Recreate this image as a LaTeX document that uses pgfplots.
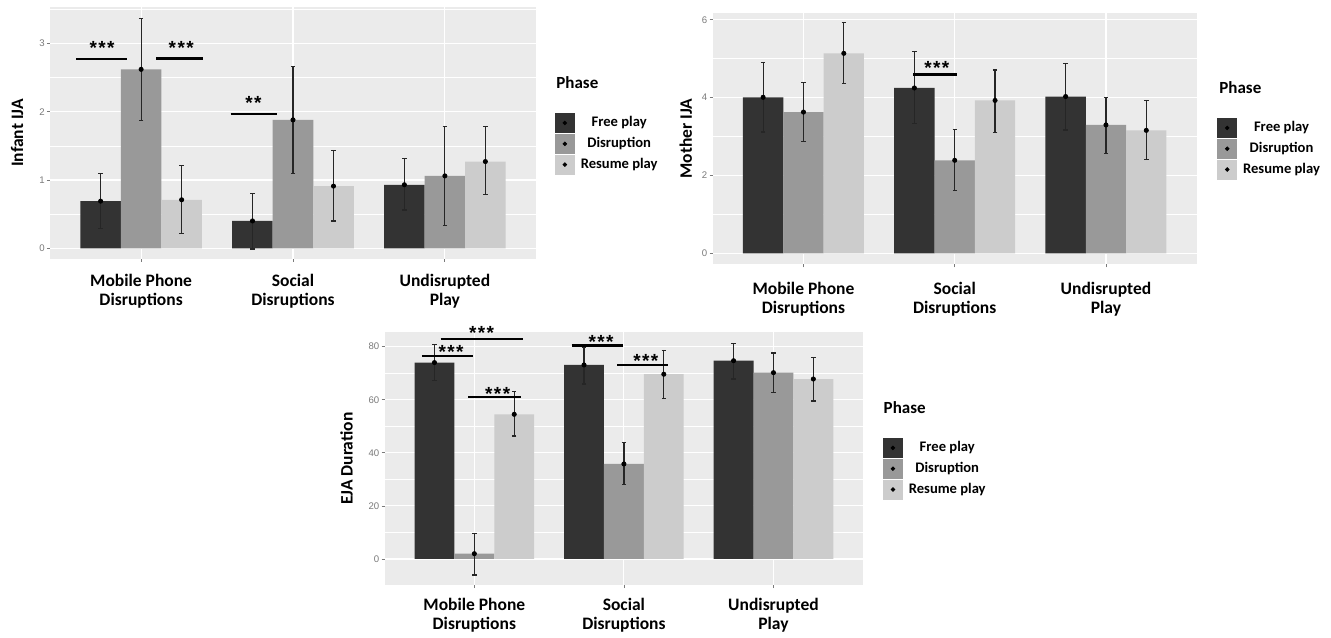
\documentclass[border=0pt]{standalone}
\usepackage{pgfplots}
\usepackage{pgfplotstable}
\pgfplotsset{compat=1.18}
\usepackage{fontspec}
\setmainfont{Carlito}
\newfontfamily\arialf{Liberation Sans}
\definecolor{cFree}{HTML}{333333}
\definecolor{cDis}{HTML}{999999}
\definecolor{cRes}{HTML}{CCCCCC}
\definecolor{ggbg}{HTML}{EBEBEB}
\definecolor{tickgray}{HTML}{7A7A7A}
\newcommand\catfont{\fontsize{8.75}{9.4}\selectfont\bfseries}
\newcommand\labfont{\fontsize{8.75}{9.4}\selectfont\bfseries}
\newcommand\legfont{\fontsize{7.3}{8}\selectfont\bfseries}
\newcommand\titfont{\fontsize{8.5}{9}\selectfont\bfseries}
\newcommand\tickfont{\arialf\fontsize{4.8}{5}\selectfont}
\newcommand\starfont{\arialf\fontsize{9.5}{10}\selectfont\bfseries}
\newcommand\sthree{*\kern0.7pt*\kern0.7pt*}
\newcommand\stwo{*\kern0.7pt*}

% ---------- Infant IJA ----------
\pgfplotstableread{
x      y     ep    em
0.7333 0.69  0.40  0.40
1.7333 0.40  0.405 0.41
2.7333 0.93  0.38  0.37
}\infFree
\pgfplotstableread{
x      y     ep    em
1      2.62  0.75  0.75
2      1.88  0.78  0.78
3      1.06  0.72  0.73
}\infDis
\pgfplotstableread{
x      y     ep    em
1.2667 0.71  0.50  0.49
2.2667 0.91  0.52  0.51
3.2667 1.27  0.51  0.48
}\infRes
% ---------- Mother IJA ----------
\pgfplotstableread{
x      y     ep    em
0.7333 4.01  0.90  0.89
1.7333 4.25  0.93  0.91
2.7333 4.03  0.85  0.86
}\motFree
\pgfplotstableread{
x      y     ep    em
1      3.63  0.77  0.75
2      2.39  0.80  0.78
3      3.30  0.71  0.73
}\motDis
\pgfplotstableread{
x      y     ep    em
1.2667 5.14  0.79  0.77
2.2667 3.93  0.78  0.83
3.2667 3.16  0.76  0.75
}\motRes
% ---------- EJA Duration ----------
\pgfplotstableread{
x      y     ep    em
0.7333 74.0  6.9   6.9
1.7333 73.1  6.7   7.2
2.7333 74.7  6.6   6.9
}\ejaFree
\pgfplotstableread{
x      y     ep    em
1      2.0   7.7   8.0
2      35.8  8.2   7.7
3      70.2  7.4   7.5
}\ejaDis
\pgfplotstableread{
x      y     ep    em
1.2667 54.5  8.5   8.2
2.2667 69.6  8.8   9.1
3.2667 67.8  8.2   8.3
}\ejaRes

\tikzset{stars/.style={font=\starfont, anchor=center, yshift=-2pt, inner sep=0pt}}
\pgfplotsset{
  ggpanel/.style={
    scale only axis, anchor=south west, clip=false,
    xmin=0.4, xmax=3.6,
    xtick={1,2,3},
    xticklabels={{Mobile Phone\\Disruptions},{Social\\Disruptions},{Undisrupted\\Play}},
    axis background/.style={fill=ggbg},
    axis line style={draw=none},
    xmajorgrids, ymajorgrids, yminorgrids,
    major grid style={white, line width=0.55pt},
    minor grid style={white, line width=0.3pt},
    tick align=outside, major tick length=1.5pt, minor tick length=0pt,
    tick style={tickgray, line width=0.4pt},
    tick pos=left,
    xticklabel style={font=\catfont, align=center, anchor=north, inner sep=0pt},
    yticklabel style={font=\tickfont, text=tickgray, inner sep=1pt},
    /pgf/number format/assume math mode=true,
    ylabel style={font=\labfont, anchor=center},
    legend style={draw=none, fill=none, inner sep=0pt, outer sep=0pt,
      anchor=north west, row sep=0.5pt, column sep=3pt, font=\legfont,
      nodes={inner sep=0pt}},
    legend cell align=center,
  },
  phasekey/.style={legend image code/.code={%
    \fill[#1] (0pt,-4.75pt) rectangle (9.5pt,4.75pt);
    \fill[black] (4.75pt,0pt) circle (0.9pt);}},
  bars/.style={ybar, bar width=0.2667, bar shift=0pt, draw=none, fill=#1, forget plot},
  means/.style={only marks, mark=*, mark size=1.05pt, black, forget plot,
    error bars/.cd, y dir=both, y explicit,
    error bar style={line width=0.6pt, black!85},
    error mark options={rotate=90, mark size=1.1pt, line width=0.6pt, black!85}},
  sig/.style={black, line width=#1, no marks, forget plot},
}

\begin{document}
\begin{tikzpicture}
\fill[white] (0,0) rectangle (665.5pt,318.5pt);
\useasboundingbox (0,0) rectangle (665.5pt,318.5pt);

% ===== Panel 1: Infant IJA =====
\begin{axis}[ggpanel,
  at={(25pt,189pt)}, width=243pt, height=126pt,
  ymin=-0.157, ymax=3.533,
  ytick={0,1,2,3}, minor ytick={0.5,1.5,2.5,3.5},
  xticklabel style={yshift=-6pt},
  ylabel={Infant IJA},
  ylabel style={at={(axis description cs:-0.0675,0.5)}},
  legend style={at={(axis description cs:1.039,0.579)}},
]
\addlegendimage{phasekey=cFree}\addlegendentry{Free play}
\addlegendimage{phasekey=cDis}\addlegendentry{Disruption}
\addlegendimage{phasekey=cRes}\addlegendentry{Resume play}
\addplot[bars=cFree] table[x=x,y=y]{\infFree};
\addplot[bars=cDis]  table[x=x,y=y]{\infDis};
\addplot[bars=cRes]  table[x=x,y=y]{\infRes};
\addplot[means] table[x=x,y=y,y error plus=ep,y error minus=em]{\infFree};
\addplot[means] table[x=x,y=y,y error plus=ep,y error minus=em]{\infDis};
\addplot[means] table[x=x,y=y,y error plus=ep,y error minus=em]{\infRes};
\addplot[sig=1.4pt] coordinates {(0.573,2.772) (0.910,2.772)};
\addplot[sig=1.4pt] coordinates {(1.100,2.780) (1.410,2.780)};
\addplot[sig=1.4pt] coordinates {(1.589,1.966) (1.892,1.966)};
\node[stars] at (axis cs:0.743,2.99) {\sthree};
\node[stars] at (axis cs:1.264,2.99) {\sthree};
\node[stars] at (axis cs:1.740,2.18) {\stwo};
\end{axis}
\node[font=\titfont, anchor=base west, inner sep=0pt] at (278pt,274pt) {Phase};

% ===== Panel 2: Mother IJA =====
\begin{axis}[ggpanel,
  at={(356.35pt,186.35pt)}, width=242pt, height=125.8pt,
  ymin=-0.283, ymax=6.185,
  ytick={0,2,4,6}, minor ytick={1,3,5},
  xticklabel style={yshift=-7.5pt},
  ylabel={Mother IJA},
  ylabel style={at={(axis description cs:-0.0556,0.5)}},
  legend style={at={(axis description cs:1.0426,0.5815)}},
]
\addlegendimage{phasekey=cFree}\addlegendentry{Free play}
\addlegendimage{phasekey=cDis}\addlegendentry{Disruption}
\addlegendimage{phasekey=cRes}\addlegendentry{Resume play}
\addplot[bars=cFree] table[x=x,y=y]{\motFree};
\addplot[bars=cDis]  table[x=x,y=y]{\motDis};
\addplot[bars=cRes]  table[x=x,y=y]{\motRes};
\addplot[means] table[x=x,y=y,y error plus=ep,y error minus=em]{\motFree};
\addplot[means] table[x=x,y=y,y error plus=ep,y error minus=em]{\motDis};
\addplot[means] table[x=x,y=y,y error plus=ep,y error minus=em]{\motRes};
\addplot[sig=1.4pt] coordinates {(1.727,4.59) (2.014,4.59)};
\node[stars] at (axis cs:1.882,4.88) {\sthree};
\end{axis}
\node[font=\titfont, anchor=base west, inner sep=0pt] at (609.5pt,271.85pt) {Phase};

% ===== Panel 3: EJA Duration =====
\begin{axis}[ggpanel,
  at={(192.3pt,26pt)}, width=239.3pt, height=126.35pt,
  ymin=-9.8, ymax=85.4,
  ytick={0,20,40,60,80}, minor ytick={10,30,50,70},
  xticklabel style={yshift=-5.15pt},
  ylabel={EJA Duration},
  ylabel style={at={(axis description cs:-0.0794,0.5)}},
  legend style={at={(axis description cs:1.0414,0.5817)}},
]
\addlegendimage{phasekey=cFree}\addlegendentry{Free play}
\addlegendimage{phasekey=cDis}\addlegendentry{Disruption}
\addlegendimage{phasekey=cRes}\addlegendentry{Resume play}
\addplot[bars=cFree] table[x=x,y=y]{\ejaFree};
\addplot[bars=cDis]  table[x=x,y=y]{\ejaDis};
\addplot[bars=cRes]  table[x=x,y=y]{\ejaRes};
\addplot[means] table[x=x,y=y,y error plus=ep,y error minus=em]{\ejaFree};
\addplot[means] table[x=x,y=y,y error plus=ep,y error minus=em]{\ejaDis};
\addplot[means] table[x=x,y=y,y error plus=ep,y error minus=em]{\ejaRes};
\addplot[sig=1.1pt] coordinates {(0.649,76.6) (0.989,76.6)};
\addplot[sig=1.1pt] coordinates {(0.774,82.8) (1.323,82.8)};
\addplot[sig=1.1pt] coordinates {(0.960,60.9) (1.311,60.9)};
\addplot[sig=1.1pt] coordinates {(1.651,80.4) (1.995,80.4)};
\addplot[sig=1.1pt] coordinates {(1.955,73.1) (2.296,73.1)};
\node[stars] at (axis cs:0.845,79.4) {\sthree};
\node[stars] at (axis cs:1.048,86.5) {\sthree};
\node[stars] at (axis cs:1.156,63.7) {\sthree};
\node[stars] at (axis cs:1.847,83.2) {\sthree};
\node[stars] at (axis cs:2.146,76.0) {\sthree};
\end{axis}
\node[font=\titfont, anchor=base west, inner sep=0pt] at (441.65pt,111.85pt) {Phase};
\end{tikzpicture}
\end{document}
